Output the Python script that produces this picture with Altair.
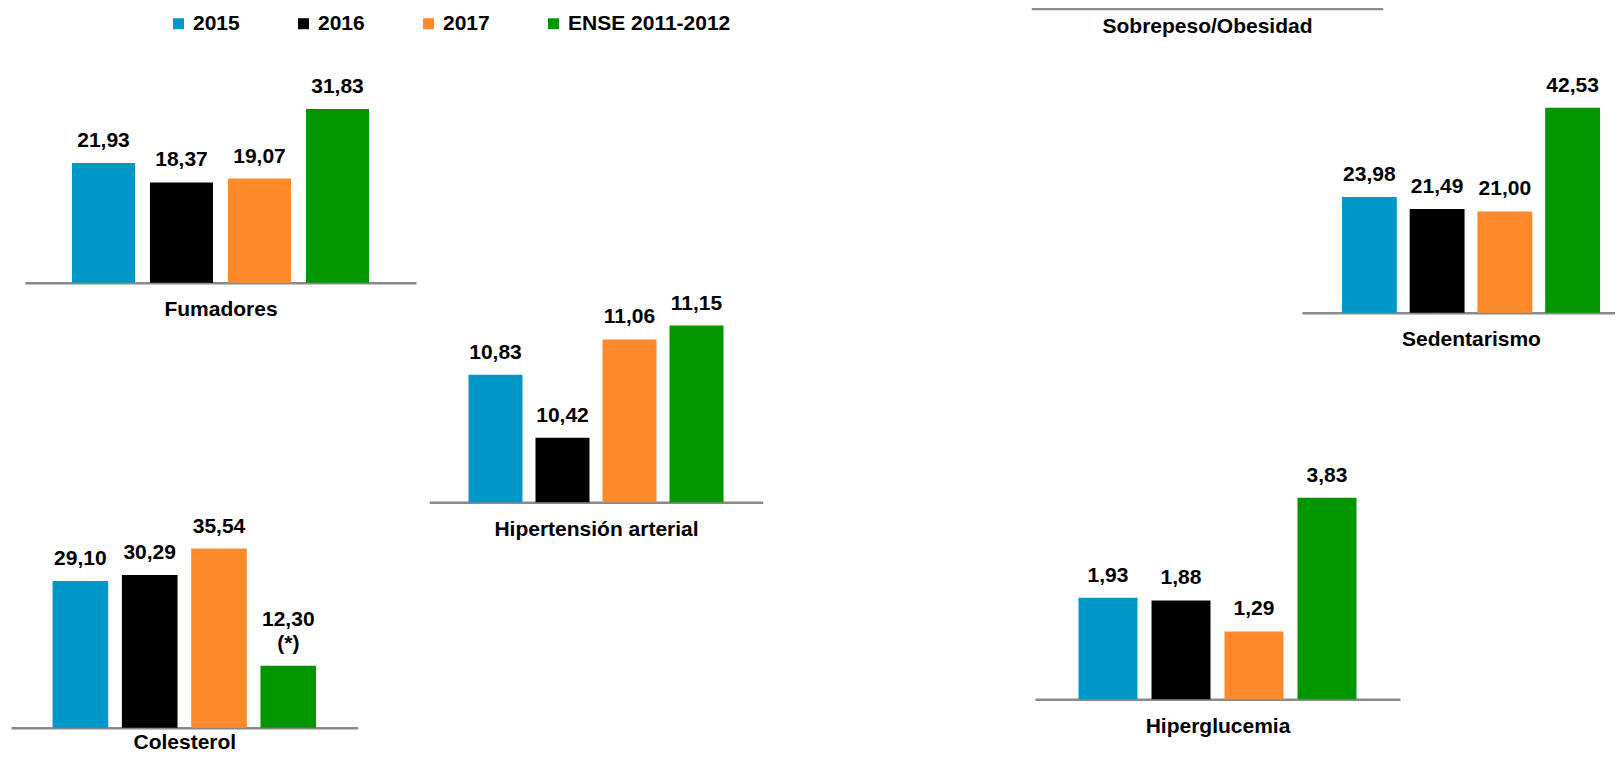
import altair as alt
import pandas as pd

# ---------------- data ----------------
series = ["2015", "2016", "2017", "ENSE 2011-2012"]
colors = ["#0098C9", "#000000", "#FF8A2C", "#009600"]

fumadores = [21.93, 18.37, 19.07, 31.83]
hipertension = [10.83, 10.42, 11.06, 11.15]
colesterol = [29.10, 30.29, 35.54, 12.30]
sedentarismo = [23.98, 21.49, 21.00, 42.53]
hiperglucemia = [1.93, 1.88, 1.29, 3.83]
notas_colesterol = ["", "", "", "(*)"]
sin_notas = ["", "", "", ""]

titulo_sobrepeso = ["Sobrepeso/Obesidad"]

# ---------------- layout ----------------
FONT = "Liberation Sans"
M = 8              # page margin
W, H = 1607, 746   # drawing area
GREY = "#8a8a8a"
LINE_H = 24


def fmt(v):
    return f"{v:.2f}".replace(".", ",")


color_enc = alt.Color(
    "serie:N",
    scale=alt.Scale(domain=series, range=colors),
    legend=alt.Legend(
        title=None, orient="none", legendX=160, legendY=5,
        direction="horizontal", symbolType="square", symbolSize=121,
        symbolStrokeWidth=0, labelFont=FONT, labelFontSize=21,
        labelFontWeight="bold", labelColor="#000000", labelOffset=4,
        columnPadding=53, padding=0, labelLimit=400,
    ),
)

text_style = dict(font=FONT, fontSize=21, fontWeight="bold", color="#000000",
                  baseline="alphabetic")


def panel(name, values, notes, line_x, base_y, ppu, y_min, y_max, p_in, p_out, t_pad=16):
    df = pd.DataFrame({
        "serie": series,
        "valor": values,
        "etiqueta": [fmt(v) for v in values],
        "nota": notes,
    })
    base = base_y - M
    xs = alt.Scale(domain=series, range=[line_x[0] - M, line_x[1] - M],
                   paddingInner=p_in, paddingOuter=p_out)
    ys = alt.Scale(domain=[y_min, y_max], range=[base, base - ppu * (y_max - y_min)],
                   nice=False, zero=False)
    x = alt.X("serie:N", scale=xs, title=name,
              axis=alt.Axis(orient="bottom", offset=base - H, labels=False,
                            ticks=False, domain=True, domainColor=GREY,
                            domainWidth=2.5, grid=False, titleFont=FONT,
                            titleFontSize=21, titleFontWeight="bold",
                            titleColor="#000000", titlePadding=t_pad))
    y = alt.Y("valor:Q", scale=ys, axis=None)
    base_chart = alt.Chart(df)
    bars = base_chart.mark_bar().encode(x=x, y=y, y2=alt.datum(y_min), color=color_enc)
    # value labels for bars without a note
    val_plain = base_chart.transform_filter("datum.nota == ''").mark_text(
        dy=-16, **text_style).encode(x=x, y=y, text="etiqueta:N")
    layers = [bars, val_plain]
    if any(notes):
        # bars with a note: value on the upper line, note just above the bar
        val_noted = base_chart.transform_filter("datum.nota != ''").mark_text(
            dy=-16 - LINE_H, **text_style).encode(x=x, y=y, text="etiqueta:N")
        note = base_chart.transform_filter("datum.nota != ''").mark_text(
            dy=-16, **text_style).encode(x=x, y=y, text="nota:N")
        layers += [val_noted, note]
    return alt.layer(*layers)


p_fum = panel("Fumadores", fumadores, sin_notas, (25, 416), 282.7, 5.46, 0, 40, 0.192, 0.602)
p_hip = panel("Hipertensión arterial", hipertension, sin_notas, (429.3, 762.7), 502.3, 153.7, 10, 11.5, 0.194, 0.585)
p_col = panel("Colesterol", colesterol, notas_colesterol, (11, 357.7), 727.7, 5.04, 0, 40, 0.197, 0.60, t_pad=4)
p_sed = panel("Sedentarismo", sedentarismo, sin_notas, (1302, 1640), 312.7, 4.82, 0, 50, 0.19, 0.59)
p_hgl = panel("Hiperglucemia", hiperglucemia, sin_notas, (1035, 1400), 699.3, 52.6, 0, 5, 0.192, 0.596)

# Sobrepeso/Obesidad panel: its bars lie above the visible area; only baseline and title show
sob_df = pd.DataFrame({"panel": titulo_sobrepeso})
sob_rule = alt.Chart(sob_df).mark_rule(color=GREY, strokeWidth=2.5).encode(
    x=alt.value(1031.7 - M), x2=alt.value(1383.3 - M), y=alt.value(1))
sob_text = alt.Chart(sob_df).mark_text(
    font=FONT, fontSize=21, fontWeight="bold", color="#000000",
    baseline="middle", align="center",
).encode(x=alt.value(1207.5 - M), y=alt.value(19), text="panel:N")

chart = (
    alt.layer(p_fum, p_hip, p_col, p_sed, p_hgl, sob_rule, sob_text)
    .resolve_scale(x="independent", y="independent")
    .resolve_axis(x="independent", y="independent")
    .properties(width=W, height=H, padding=0, autosize="none")
    .configure_view(stroke=None)
)

chart.save("out.html", embed_options={"renderer": "svg", "actions": False})
